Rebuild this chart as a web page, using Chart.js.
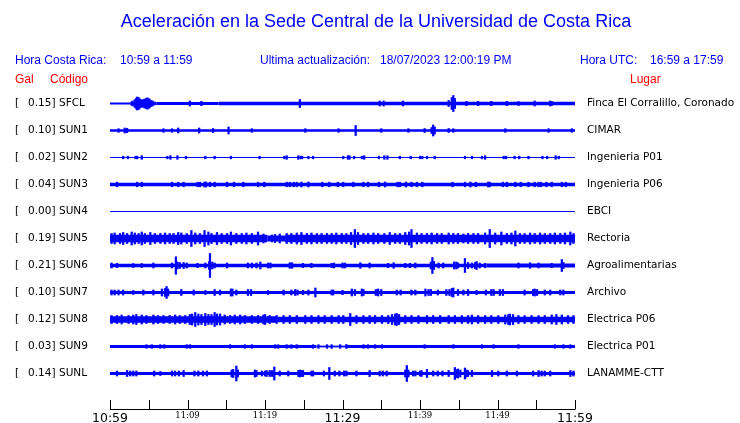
<!DOCTYPE html>
<html>
<head>
<meta charset="utf-8">
<script src="https://cdn.jsdelivr.net/npm/chart.js@4.4.0/dist/chart.umd.min.js"></script>
<style>
  html, body { margin: 0; padding: 0; background: #fff; }
  #wrap { width: 740px; height: 423px; position: relative; }
</style>
</head>
<body>
<div id="wrap"><canvas id="sismo" width="740" height="423"></canvas></div>
<script>
// Stations (top to bottom)
const stations = ['SFCL', 'SUN1', 'SUN2', 'SUN3', 'SUN4', 'SUN5', 'SUN6', 'SUN7', 'SUN8', 'SUN9', 'SUNL']
const peakGal = ['0.15', '0.10', '0.02', '0.04', '0.00', '0.19', '0.21', '0.10', '0.12', '0.03', '0.14']
const places = ['Finca El Corralillo, Coronado', 'CIMAR', 'Ingenieria P01', 'Ingenieria P06', 'EBCI',
  'Rectoria', 'Agroalimentarias', 'Archivo', 'Electrica P06', 'Electrica P01', 'LANAMME-CTT']
const tickLabels = ['10:59', '11:09', '11:19', '11:29', '11:39', '11:49', '11:59']

// Background noise band per trace: [from min, to min, half height]
const bandSFCL = [[0, 2.6, 1.0], [2.6, 6, 1.7], [6, 14, 1.4], [14, 60, 1.7]]
const bandSUN1 = [[0, 60, 1.3]]
const bandSUN2 = [[0, 60, 0.5]]
const bandSUN3 = [[0, 60, 1.7]]
const bandSUN4 = [[0, 60, 0.5]]
const bandSUN5 = [[0, 20.3, 3.7], [20.3, 22.6, 3.0], [22.6, 60, 3.7]]
const bandSUN6 = [[0, 28.5, 1.7], [28.5, 48.6, 1.7], [48.6, 60, 2.1]]
const bandSUN7 = [[0, 60, 1.5]]
const bandSUN8 = [[0, 21.6, 3.2], [21.6, 60, 2.8]]
const bandSUN9 = [[0, 26.6, 1.4], [26.6, 30.4, 0.9], [30.4, 60, 1.4]]
const bandSUNL = [[0, 60, 1.6]]

// Peaks per trace: [minute after 10:59, half height]
const spikesSFCL = [[2.9, 2.5], [3.2, 4], [3.4, 5.5], [3.5, 6.5], [3.7, 6], [3.9, 4.5], [4.1, 3.5], [4.3, 4],
  [4.5, 4.5], [4.7, 5.5], [4.9, 5.5], [5.1, 4.5], [5.3, 3], [5.5, 2.5], [10.3, 2.5], [11.8, 2.2], [24.5, 4],
  [34.8, 2.5], [35.3, 2.5], [37.8, 2.5], [43.7, 3], [44.1, 6], [44.3, 8], [44.5, 5], [46, 2.2], [47.5, 2.2],
  [49.2, 2.2], [51.2, 2.2], [52.7, 2], [54.8, 2.5], [56.8, 2.5], [57, 2]]
const spikesSUN1 = [[1.1, 1.8], [1.9, 2.5], [2.2, 2.2], [6.9, 1.8], [8, 1.8], [8.8, 2.5], [11.5, 2.5], [13.3, 2],
  [15.3, 3.5], [18.3, 1.8], [25.2, 1.8], [29.5, 1.8], [31.7, 5], [35, 1.8], [38.5, 1.8], [40.6, 2], [41.5, 3],
  [41.7, 5.5], [41.9, 3.5], [43.7, 2], [44.3, 1.8], [51, 1.8], [56.6, 1.8], [59.6, 1.8]]
const spikesSUN2 = [[1.7, 1.3], [2.3, 1.3], [3.3, 1.3], [3.5, 1.3], [4.1, 1.8], [7.4, 1.3], [7.8, 1.8], [8.7, 1.8],
  [9.8, 1.3], [12.3, 1.3], [13.5, 1.3], [15.6, 1.3], [19.3, 1.3], [22.5, 1.3], [22.8, 1.8], [24.3, 1.8], [24.6, 1.3],
  [24.8, 1.3], [25.6, 1.3], [26.2, 1.3], [30.1, 1.3], [30.7, 1.8], [30.9, 1.8], [31.5, 1.3], [32.5, 1.3], [32.8, 1.8],
  [34.7, 1.3], [35.4, 1.8], [35.8, 1.8], [37.4, 1.3], [38.8, 1.3], [40, 1.3], [40.3, 1.3], [40.9, 1.3], [41.9, 1.3],
  [45.8, 1.3], [46.7, 1.3], [48, 1.3], [48.4, 1.8], [50.8, 1.3], [51.1, 1.3], [52.2, 1.3], [52.8, 1.3], [54, 1.3],
  [55.8, 1.3], [56.4, 1.3], [57.5, 1.8], [57.9, 1.3]]
const spikesSUN3 = [[0.9, 2.3], [3.5, 2.3], [4.1, 2.3], [8, 2.3], [8.8, 2.3], [9.5, 2.3], [11.3, 2.3], [11.6, 2.3],
  [12.2, 2.5], [12.4, 2.5], [12.9, 2.3], [13.5, 2.3], [15.1, 2.3], [16, 2.3], [17.2, 2.3], [19.1, 2.3], [19.9, 2.3],
  [22.8, 2.3], [23.2, 2.3], [23.7, 2.3], [24.1, 2.3], [24.7, 2.5], [25.6, 2.5], [27.4, 2.3], [28.3, 2.3], [29.4, 2.3],
  [30.1, 2.3], [31.4, 2.3], [32.7, 2.3], [33.3, 2.3], [34.7, 2.3], [35.5, 2.5], [37.1, 2.3], [37.4, 2.3], [38.2, 2.5],
  [38.9, 2.3], [39.6, 2.3], [40.3, 2.3], [44.2, 2.3], [45.8, 2.3], [46.5, 2.5], [47.2, 2.3], [48.8, 2.5], [49, 2.3],
  [50.7, 2.3], [51.2, 2.3], [52.3, 2.3], [53, 2.3], [54, 2.3], [54.8, 2.3], [55.3, 2.3], [55.6, 2.3], [56.3, 2.3],
  [57, 2.3], [58.3, 2.3], [58.8, 2.3]]
const spikesSUN4 = []
const spikesSUN5 = [[0.2, 5], [0.6, 5.5], [1.3, 5], [1.7, 6], [2.2, 5], [2.8, 6.5], [3.2, 5.5], [3.7, 5], [4.1, 6.5],
  [4.5, 5], [5.2, 6], [5.8, 5], [6.5, 5], [7.1, 5.5], [7.7, 5], [8.2, 5], [8.8, 6], [9.2, 5.5], [9.9, 5], [10.5, 8],
  [11, 5.5], [11.6, 5], [12.2, 8], [12.7, 6.5], [13.1, 5], [13.8, 6], [14.4, 5], [15.1, 5], [15.6, 6.5], [16.3, 5],
  [17, 5], [17.6, 5.5], [18.3, 5], [19.1, 6.5], [19.8, 4.5], [20.9, 3.5], [21.3, 4], [21.9, 4.5], [22.8, 5], [23.4, 5],
  [24.1, 5.5], [24.7, 6], [25.4, 5], [26, 5.5], [26.7, 5], [27.3, 5], [28, 5], [28.6, 5], [29.2, 5.5], [29.9, 5],
  [30.5, 5], [31.1, 6], [31.6, 9], [32, 6], [32.7, 5], [33.3, 5], [34, 5.5], [34.6, 5], [35.4, 5], [36.1, 6], [36.8, 5],
  [37.4, 5], [38.1, 6], [38.6, 6.5], [38.9, 9], [39.6, 5.5], [40.2, 5], [40.9, 5], [41.5, 5.5], [42.2, 5], [42.8, 5],
  [43.7, 5.5], [44.3, 5], [44.9, 5], [45.6, 4.5], [46.2, 5], [46.9, 5], [47.5, 5], [48.4, 5.5], [49, 9], [49.7, 5.5],
  [50.5, 6.5], [51.2, 5], [51.8, 5.5], [52.3, 7.5], [52.9, 5], [53.5, 5], [54.2, 5.5], [54.8, 5], [55.5, 5.5], [56.1, 5],
  [56.8, 5], [57.4, 5.5], [58.1, 5], [58.7, 5.5], [59.4, 6.5], [59.8, 5]]
const spikesSUN6 = [[0.2, 2.5], [0.9, 2.2], [3, 2], [4.1, 2], [5.6, 2.5], [8, 2.5], [8.5, 8.7], [8.7, 3.5], [9, 3],
  [9.5, 3], [9.9, 2.5], [11.3, 2.2], [12.3, 2.5], [12.8, 4], [12.9, 12], [13.2, 3.5], [13.5, 2.5], [15.1, 2.5],
  [17.8, 2.5], [18.3, 2.5], [18.9, 2.5], [19.4, 3.5], [20.4, 2.5], [20.7, 2.5], [23.2, 2.8], [23.5, 2.8], [24.9, 2.2],
  [26, 2.2], [28.6, 2.2], [28.9, 2.5], [30, 2.5], [30.3, 2.5], [32.3, 2.8], [33.5, 2.5], [35.9, 2.2], [36.6, 2.8],
  [38.1, 2.2], [38.7, 2.2], [39.4, 2.5], [41.4, 3.5], [41.6, 8], [41.8, 4], [42.4, 2.5], [43, 2.5], [44.4, 3.5],
  [44.7, 3.5], [44.9, 2.5], [45.8, 7], [46.2, 3], [46.7, 2.5], [47.1, 3], [47.3, 4], [47.7, 2.5], [48.4, 2.2],
  [52.7, 2.5], [54.2, 2.8], [55.3, 2.5], [57, 2.2], [58.3, 6], [58.5, 3]]
const spikesSUN7 = [[0.2, 2.5], [0.6, 2.5], [1.1, 2.5], [1.7, 2.5], [3, 2], [4.3, 2.5], [5.6, 2.5], [6.7, 3.5], [7.1, 4],
  [7.3, 6], [7.5, 3.5], [9.2, 3], [10.8, 2.5], [12.3, 2], [13.5, 3], [14.2, 2.5], [15.6, 3.5], [15.8, 3.5], [16.3, 2.5],
  [17.8, 3], [18.2, 3], [20.4, 2], [22.4, 2.5], [23.4, 2.5], [23.9, 3], [24.2, 2.5], [24.9, 2.2], [25.6, 2.5],
  [26.5, 4.5], [28.6, 2.5], [28.8, 2.5], [30, 2.2], [31.2, 3.5], [31.6, 3], [32.5, 3.5], [32.7, 3], [34.3, 3],
  [34.6, 3.5], [35, 3], [37, 2.5], [37.5, 2.5], [38.9, 2.5], [39.4, 2.5], [40.7, 3.5], [41.1, 3], [41.4, 3],
  [42.3, 2.5], [43.4, 3], [43.8, 3], [44.1, 4], [44.3, 4.5], [44.9, 3], [45.6, 2.5], [46.2, 3], [47.3, 2.2],
  [48.5, 2.5], [49.2, 3], [49.5, 3], [50.3, 3], [50.7, 3], [53.5, 2.5], [54.6, 3], [54.8, 3.5], [55.1, 3],
  [56.1, 2.5], [56.8, 2.5], [58.1, 2.5], [58.5, 2.5]]
const spikesSUN8 = [[0.2, 4], [0.9, 4], [1.5, 4.5], [2.4, 4], [3, 4.5], [3.4, 5], [4.1, 4.5], [4.7, 4], [5.6, 4.5],
  [6.2, 4], [6.9, 4], [7.7, 4], [8.4, 4.5], [9, 4], [9.7, 4], [10.3, 5], [10.6, 5.5], [11, 7], [11.4, 5.5], [11.8, 5],
  [12.3, 6], [12.7, 5], [13.1, 5], [13.5, 7], [13.8, 5.5], [14.2, 5.5], [14.8, 4.5], [15.5, 4], [16.1, 4.5],
  [16.8, 4.5], [17.4, 4], [18.3, 4], [19.1, 4], [19.8, 4.5], [20, 5], [20.6, 4], [21.5, 4], [22.4, 4], [23.2, 4],
  [24.1, 4], [25.2, 4], [26, 4], [26.9, 4], [27.7, 4], [28.6, 4], [29.5, 4], [30.1, 4], [31, 6], [31.8, 4], [32.7, 4],
  [33.5, 4], [34.2, 4], [35.1, 4], [35.9, 4], [36.4, 5], [36.8, 5.5], [37, 6], [37.3, 5], [38.1, 4], [38.9, 4],
  [39.8, 4], [40.9, 4], [41.7, 4], [42.6, 4], [43.7, 4], [44.5, 4], [45.4, 4], [46.2, 4], [46.7, 4.5], [47.5, 4],
  [48.4, 4], [49.2, 4], [50.1, 4], [51, 4.5], [51.4, 5], [51.6, 5.5], [52, 5], [52.7, 4], [53.5, 4], [54.4, 4],
  [55.3, 4], [56.1, 4], [57, 4.5], [57.6, 5], [58.3, 4.5], [59.1, 4], [59.8, 4]]
const spikesSUN9 = [[4.7, 1.8], [5.4, 1.8], [6.5, 1.8], [7, 1.8], [9.9, 1.8], [10.3, 1.8], [15.5, 1.8], [17.4, 1.8],
  [18.3, 1.8], [21.3, 1.8], [21.7, 1.8], [22.8, 1.8], [23.4, 1.8], [24.1, 1.8], [26.2, 1.8], [26.9, 1.8], [28, 1.8],
  [28.6, 1.8], [29.7, 1.8], [30.5, 2], [32.7, 1.8], [33.3, 1.8], [34.2, 1.8], [35.1, 1.8], [40.6, 1.8], [44.3, 1.8],
  [48, 1.8], [49.5, 1.8], [52.7, 1.8], [57.4, 1.8], [58.5, 1.8], [59.4, 1.8]]
const spikesSUNL = [[0.9, 2.5], [2.2, 3], [2.6, 2.5], [3, 2.5], [3.4, 2.5], [5.7, 2.5], [6.5, 2], [8, 2.5], [8.4, 2.5],
  [8.9, 2.5], [9.5, 3], [10.9, 2.5], [11.4, 2.5], [12, 2.5], [12.5, 2.5], [15.7, 3.5], [15.9, 4], [16.3, 7.5],
  [16.5, 3.5], [18.7, 3.5], [18.9, 3], [19.6, 2.5], [20, 2.5], [20.2, 3], [20.6, 3], [20.9, 3], [21.2, 6.5],
  [21.9, 2.5], [23, 2.5], [24.3, 3], [24.5, 3.5], [24.7, 3], [24.9, 3], [26, 2.5], [26.2, 2.5], [27.6, 2.5], [28.3, 6],
  [29, 2.5], [29.6, 2.5], [30.2, 2.5], [30.5, 2.5], [31.8, 2.5], [33.5, 3], [34.8, 2.5], [35.2, 2.5], [35.7, 2.5],
  [38.1, 3.5], [38.3, 8], [38.5, 3.5], [39.1, 2.5], [39.4, 2.5], [40, 2.5], [40.2, 3], [40.9, 4], [41.7, 2.5],
  [42.3, 2.5], [42.9, 2.5], [43.7, 3], [44.5, 6], [44.7, 4], [44.9, 4.5], [45.2, 3.5], [45.8, 5.5], [46, 3.5],
  [46.2, 3], [46.7, 3], [49.3, 3], [50.1, 2.5], [51.2, 2.5], [52.5, 2.5], [54.6, 2.5], [55.3, 3], [55.7, 2.5],
  [56.1, 2.5], [56.8, 2.5], [59.4, 3], [59.8, 2.5]]

const bands = [bandSFCL, bandSUN1, bandSUN2, bandSUN3, bandSUN4, bandSUN5, bandSUN6, bandSUN7, bandSUN8, bandSUN9, bandSUNL]
const spikes = [spikesSFCL, spikesSUN1, spikesSUN2, spikesSUN3, spikesSUN4, spikesSUN5, spikesSUN6, spikesSUN7, spikesSUN8, spikesSUN9, spikesSUNL]

const BLUE = '#0000ff'
const RED = '#ff0000'

// each trace sits on its own row, 27 units apart (1 unit = 1 px)
const rowCenter = (i) => -(13.5 + 27 * i)

const datasets = []
stations.forEach((name, i) => {
  const c = rowCenter(i)
  bands[i].forEach(([t0, t1, h]) => {
    datasets.push({
      type: 'line',
      data: [{ x: t0, y: c }, { x: t1, y: c }],
      borderColor: BLUE,
      borderWidth: Math.max(1, h * 2),
      borderCapStyle: 'butt',
      pointRadius: 0,
      tension: 0
    })
  })
  datasets.push({
    type: 'bar',
    data: spikes[i].map(([t, a]) => ({ x: t, y: [c - a, c + a] })),
    backgroundColor: BLUE,
    barThickness: 1.6,
    grouped: false,
    borderWidth: 0
  })
})

// Header, labels and the time axis ticks
const decorPlugin = {
  id: 'decor',
  afterDraw(chart) {
    const ctx = chart.ctx
    const x = chart.scales.x
    const y = chart.scales.y
    const bottom = chart.chartArea.bottom
    ctx.save()

    ctx.textBaseline = 'middle'
    ctx.fillStyle = BLUE
    ctx.font = '18px "Liberation Sans", Arial, sans-serif'
    ctx.textAlign = 'center'
    ctx.fillText('Aceleración en la Sede Central de la Universidad de Costa Rica', 376, 22)

    ctx.textAlign = 'left'
    ctx.font = '12px "Liberation Sans", Arial, sans-serif'
    ctx.fillText('Hora Costa Rica:', 15, 61)
    ctx.fillText('10:59 a 11:59', 120, 61)
    ctx.fillText('Ultima actualización:', 260, 61)
    ctx.fillText('18/07/2023 12:00:19 PM', 380, 61)
    ctx.fillText('Hora UTC:', 580, 61)
    ctx.fillText('16:59 a 17:59', 650, 61)

    ctx.fillStyle = RED
    ctx.fillText('Gal', 15, 80)
    ctx.fillText('Código', 50, 80)
    ctx.fillText('Lugar', 630, 80)

    ctx.fillStyle = '#000'
    ctx.font = '10.5px "DejaVu Sans", sans-serif'
    stations.forEach((name, i) => {
      const py = y.getPixelForValue(rowCenter(i))
      ctx.fillText('[', 15, py)
      ctx.fillText(peakGal[i] + ']', 28, py)
      ctx.fillText(name, 59, py)
      ctx.fillText(places[i], 587, py)
    })

    // axis line with ticks pointing up
    ctx.strokeStyle = '#000'
    ctx.lineWidth = 1
    ctx.beginPath()
    ctx.moveTo(x.getPixelForValue(0), bottom + 0.5)
    ctx.lineTo(x.getPixelForValue(60), bottom + 0.5)
    for (let m = 0; m <= 60; m += 5) {
      const px = Math.round(x.getPixelForValue(m)) + 0.5
      ctx.moveTo(px, bottom + 0.5)
      ctx.lineTo(px, bottom - 9)
    }
    ctx.stroke()
    ctx.restore()
  }
}

new Chart(document.getElementById('sismo'), {
  type: 'bar',
  data: { datasets },
  plugins: [decorPlugin],
  options: {
    responsive: false,
    animation: false,
    events: [],
    layout: { padding: { left: 110, right: 165, top: 90, bottom: 0 } },
    plugins: { legend: { display: false }, tooltip: { enabled: false }, title: { display: false } },
    scales: {
      x: {
        type: 'linear',
        min: 0,
        max: 60,
        offset: false,
        grid: { display: false, drawTicks: false },
        border: { display: false },
        afterFit: (s) => { s.height = 14 },
        ticks: {
          stepSize: 5,
          autoSkip: false,
          maxRotation: 0,
          padding: 2,
          color: '#000',
          callback: (v) => (v % 10 === 0 ? tickLabels[v / 10] : ''),
          font: (c) => (c.tick && c.tick.value % 30 === 0)
            ? { family: '"DejaVu Sans", sans-serif', size: 12.5 }
            : { family: '"DejaVu Serif", serif', size: 8.5 }
        }
      },
      y: {
        type: 'linear',
        display: false,
        min: -319,
        max: 0
      }
    }
  }
})
</script>
</body>
</html>
